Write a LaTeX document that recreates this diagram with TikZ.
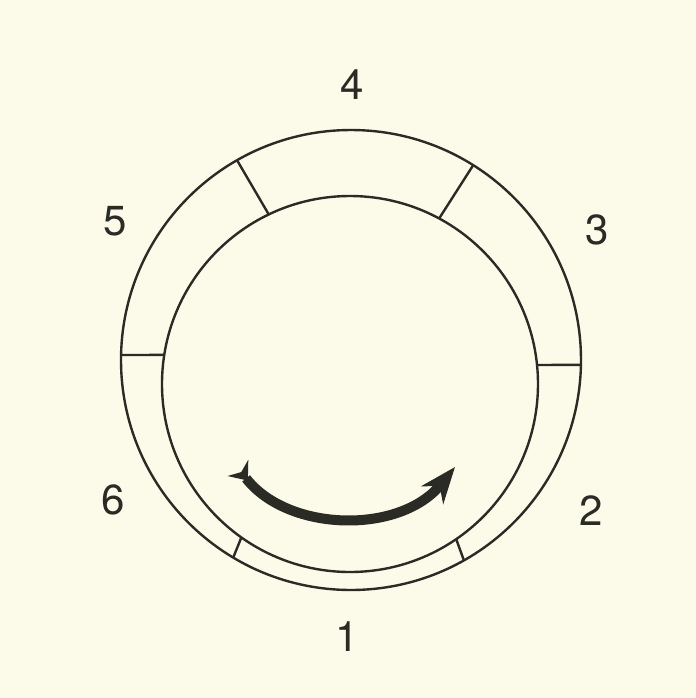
\documentclass[tikz,border=0pt]{standalone}
\usepackage{fontspec}
\setmainfont{TeX Gyre Heros}
\usepackage{xcolor}
\usepackage{tikz}
\usetikzlibrary{arrows.meta}
\definecolor{carta}{HTML}{FCFAE8}
\definecolor{inchiostro}{HTML}{2B2B26}

\begin{document}
\begin{tikzpicture}[x=0.5pt, y=-0.5pt, line width=1.2pt, color=inchiostro,
        numero/.style={font=\fontsize{21}{25}\selectfont, inner sep=0pt}]
        \fill[carta] (0,0) rectangle (696,698);
        \useasboundingbox (0,0) rectangle (696,698);
        % Cerchi
        \coordinate (cest) at (351,360);
        \coordinate (cint) at (350,384);
        \draw (cest) circle[radius=230];
        \draw (cint) circle[radius=188];
        % Divisori tra i settori
        \foreach \ae/\ai in {181.25/188.9, 1.2/-5.8, -119.7/-115.6,
                -57.9/-61.7, 120.8/125.3, 60.6/55.6}
            {
                \draw ([shift={(\ae:230)}]cest) -- ([shift={(\ai:188)}]cint);
            }
        % Numeri dei settori
        \foreach \n/\x/\y in {1/347/637, 2/591/511, 3/597/230,
                4/352/85, 5/115/221, 6/113/500}
            {
                \node[numero] (sett\n) at (\x,\y) {\n};
            }
        % Freccia
        \draw[line width=5pt,
            {Stealth[reversed, length=8pt, width=13pt]}-{Stealth[length=18pt, width=14pt]}]
            (238,468) .. controls (288,532) and (400,535) .. (455,467);
    \end{tikzpicture}
\end{document}
